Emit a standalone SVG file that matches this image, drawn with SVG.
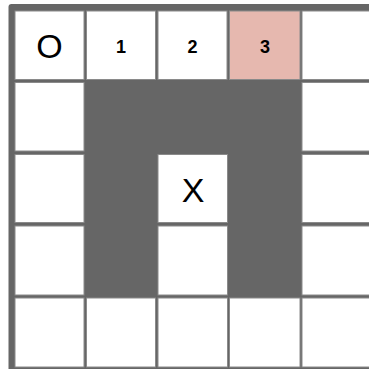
<svg xmlns="http://www.w3.org/2000/svg" width="369" height="369" viewBox="0 0 369 369">
<style>
.cell{fill:#ffffff;stroke:#8a8a8a;stroke-width:1}
.goal{fill:#e6b8af;stroke:#8a8a8a;stroke-width:1}
.big{font-family:"Liberation Sans",Arial,sans-serif;font-size:34px;fill:#000;text-anchor:middle}
.num{font-family:"Liberation Sans",Arial,sans-serif;font-size:18px;font-weight:bold;fill:#000;text-anchor:middle}
</style>
<rect width="369" height="369" fill="#ffffff"/>
<rect id="frame" x="8.5" y="4" width="420" height="420" rx="3" fill="#666666"/>
<g id="row0">
<g id="c00"><rect class="cell" x="15" y="11" width="69" height="68.5"/><text class="big" x="49.5" y="57.5">O</text></g>
<g id="c01"><rect class="cell" x="86.5" y="11" width="69" height="68.5"/><text class="num" x="121" y="52.5">1</text></g>
<g id="c02"><rect class="cell" x="158" y="11" width="69" height="68.5"/><text class="num" x="192.5" y="52.5">2</text></g>
<g id="c03"><rect class="goal" x="229.5" y="11" width="70.5" height="68.5"/><text class="num" x="265" y="52.5">3</text></g>
<g id="c04"><rect class="cell" x="302" y="11" width="80" height="68.5"/></g>
</g>
<g id="row1">
<g id="c10"><rect class="cell" x="15" y="82.5" width="69" height="68.5"/></g>
<g id="c14"><rect class="cell" x="302" y="82.5" width="80" height="68.5"/></g>
</g>
<g id="row2">
<g id="c20"><rect class="cell" x="15" y="154.5" width="69" height="68"/></g>
<g id="c22"><rect class="cell" x="158" y="154.5" width="69.5" height="68"/><text class="big" x="193" y="202">X</text></g>
<g id="c24"><rect class="cell" x="302" y="154.5" width="80" height="68"/></g>
</g>
<g id="row3">
<g id="c30"><rect class="cell" x="15" y="226" width="69" height="69"/></g>
<g id="c32"><rect class="cell" x="158" y="226" width="69.5" height="69"/></g>
<g id="c34"><rect class="cell" x="302" y="226" width="80" height="69"/></g>
</g>
<g id="row4">
<g id="c40"><rect class="cell" x="15" y="298" width="69" height="69"/></g>
<g id="c41"><rect class="cell" x="86.5" y="298" width="69" height="69"/></g>
<g id="c42"><rect class="cell" x="158" y="298" width="69.5" height="69"/></g>
<g id="c43"><rect class="cell" x="229.5" y="298" width="70.5" height="69"/></g>
<g id="c44"><rect class="cell" x="302" y="298" width="80" height="69"/></g>
</g>
<g id="connectors"/>
</svg>
